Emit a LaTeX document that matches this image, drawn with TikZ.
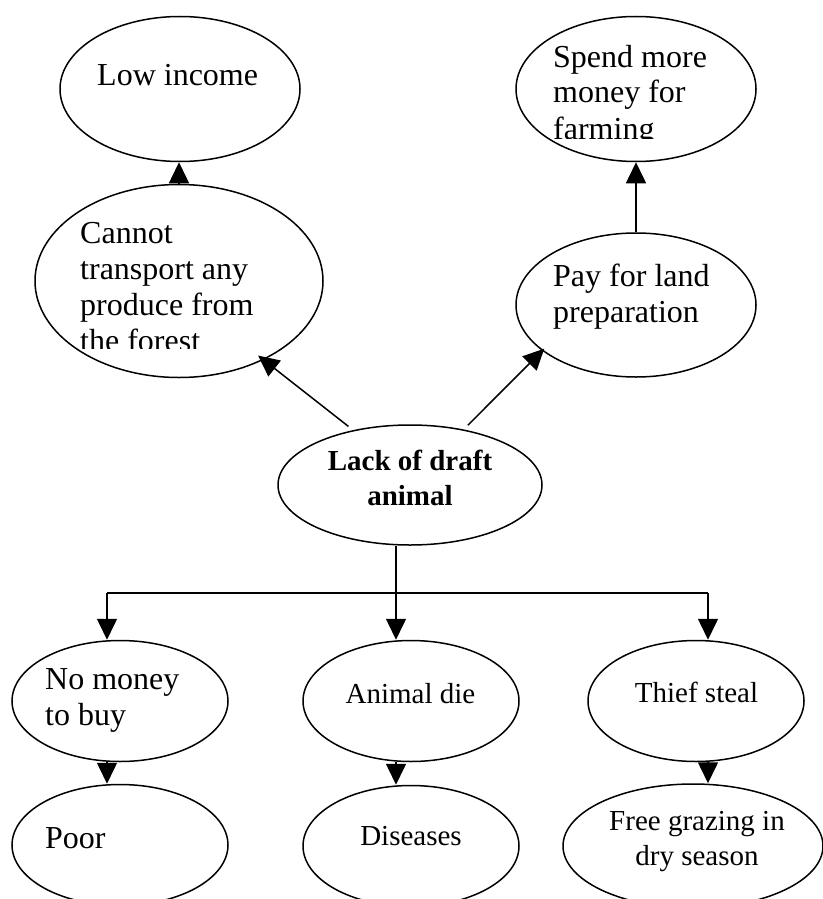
\documentclass[tikz,border=0pt]{standalone}
\usepackage{fontspec}
\setmainfont{Liberation Serif}
\usetikzlibrary{arrows.meta,shapes.geometric}

\begin{document}
\begin{tikzpicture}[x=1pt,y=-1pt,
  bubble/.style 2 args={draw,ellipse,line width=1.5pt,inner sep=0pt,
    minimum width=#1,minimum height=#2},
  conn/.style={line width=1.5pt},
  arr/.style={line width=1.5pt,-{Triangle[length=21pt,width=20pt]}},
  big/.style={font=\fontsize{32}{36}\selectfont},
  small/.style={font=\fontsize{29}{35}\selectfont},
  % multi-line nodes: the base anchor sits on the last line
  txt/.style={inner sep=0pt,align=left,anchor=base west},
  ctxt/.style={inner sep=0pt,align=center,anchor=base}]

% page
\path[fill=white,use as bounding box] (0,0) rectangle (822,899);

% ellipses
\node[bubble={240pt}{145pt}] (low)      at (180,89)  {};
\node[bubble={240pt}{145pt}] (spend)    at (636,89)  {};
\node[bubble={288pt}{193pt}] (cannot)   at (179,281) {};
\node[bubble={240pt}{144pt}] (pay)      at (636,305) {};
\node[bubble={264pt}{120pt}] (lack)     at (410,485) {};
\node[bubble={216pt}{121pt}] (nomoney)  at (120,701) {};
\node[bubble={216pt}{121pt}] (animal)   at (411,701) {};
\node[bubble={216pt}{121pt}] (thief)    at (696,701) {};
\node[bubble={216pt}{121pt}] (poor)     at (120,845) {};
\node[bubble={216pt}{121pt}] (diseases) at (411,846) {};
\node[bubble={260pt}{124pt}] (free)     at (693,846) {};

% texts
\node[big,txt] (lowtext) at (97,85) {Low income};
\begin{scope}
  \clip (0,0) rectangle (411,348);
  \node[big,txt] (cannottext) at (80,351) {Cannot\\transport any\\produce from\\the forest};
\end{scope}
\begin{scope}
  \clip (411,0) rectangle (822,138);
  \node[big,txt] (spendtext) at (553,139) {Spend more\\money for\\farming};
\end{scope}
\node[big,txt] (paytext) at (553,322) {Pay for land\\preparation};
\node[font=\fontsize{29}{35}\selectfont\bfseries,ctxt] (lacktext) at (410,505) {Lack of draft\\animal};
\node[big,txt] (nomoneytext) at (45,725) {No money\\to buy};
\node[small,ctxt] (animaltext) at (410.5,703) {Animal die};
\node[small,ctxt] (thieftext) at (696.5,702) {Thief steal};
\node[big,txt] (poortext) at (45,848) {Poor};
\node[small,ctxt] (diseasestext) at (411,845) {Diseases};
\node[small,ctxt] (freetext) at (697,865) {Free grazing in\\dry season};

% upper connectors
\draw[arr] (cannot.north) -- (cannot.north |- low.south);
\draw[arr] (pay.north) -- (spend.south);
\draw[arr,shorten <=6pt,shorten >=-7pt] (lack.136) -- (cannot.-43);
\draw[arr,shorten <=6pt,shorten >=-3pt] (lack.46) -- (pay.206);

% branch bar under the central ellipse
\coordinate (c1) at (107,593);
\coordinate (c2) at (396,593);
\coordinate (c3) at (708,593);
\draw[conn] (c1) -- (c3);
\draw[arr] (c2 |- lack.south) -- (c2 |- animal.north);
\draw[arr] (c1) -- (c1 |- nomoney.north);
\draw[arr] (c3) -- (c3 |- thief.north);

% lower connectors
\draw[arr] (c1 |- nomoney.south) -- (c1 |- poor.north);
\draw[arr] (c2 |- animal.south) -- (c2 |- diseases.north);
\draw[arr] (c3 |- thief.south) -- (c3 |- free.north);
\end{tikzpicture}
\end{document}
